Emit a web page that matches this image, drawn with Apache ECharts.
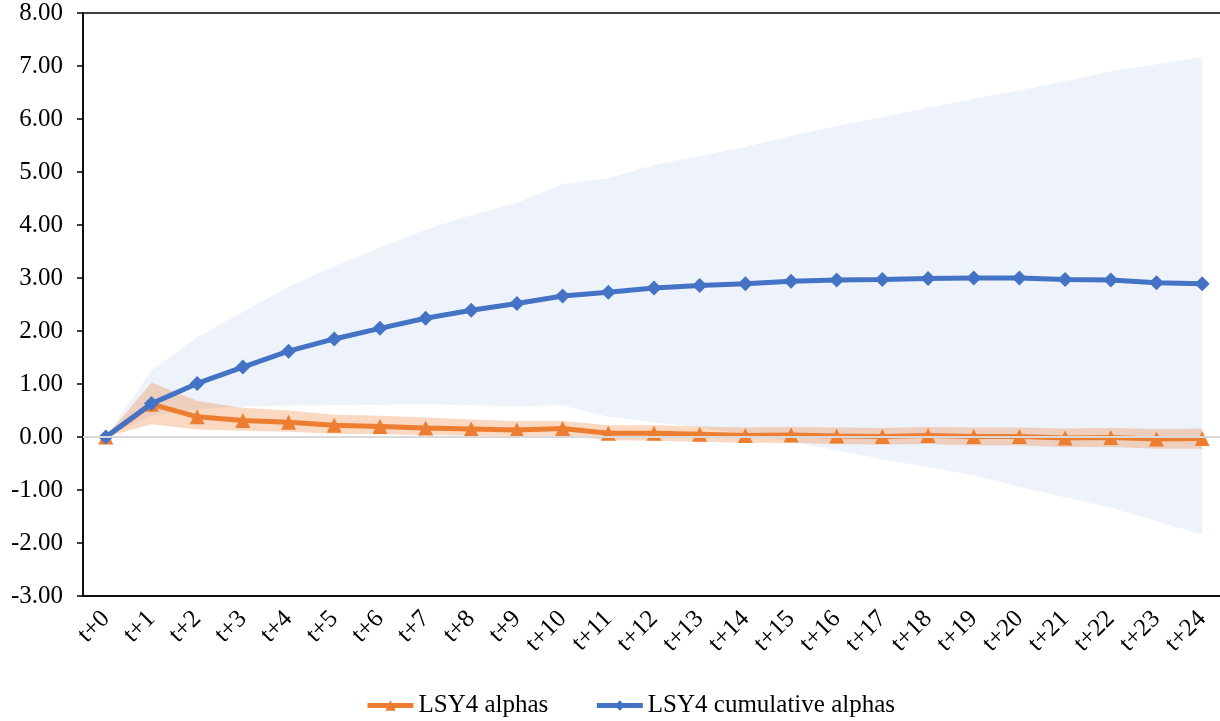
<!DOCTYPE html>
<html>
<head>
<meta charset="utf-8">
<script src="https://cdn.jsdelivr.net/npm/echarts@6/dist/echarts.min.js"></script>
<style>
html,body{margin:0;padding:0;background:#fff;}
#chart{width:1220px;height:721px;}
</style>
</head>
<body>
<div id="chart"></div>
<script>
var categories = ['t+0','t+1','t+2','t+3','t+4','t+5','t+6','t+7','t+8','t+9','t+10','t+11','t+12','t+13','t+14','t+15','t+16','t+17','t+18','t+19','t+20','t+21','t+22','t+23','t+24'];
var alphas = [0, 0.62, 0.38, 0.31, 0.28, 0.22, 0.20, 0.17, 0.15, 0.13, 0.16, 0.07, 0.07, 0.05, 0.03, 0.04, 0.02, 0.01, 0.03, 0.01, 0.01, -0.02, -0.01, -0.04, -0.03];
var alphasUpper = [0, 1.03, 0.68, 0.55, 0.50, 0.42, 0.40, 0.37, 0.33, 0.30, 0.30, 0.22, 0.22, 0.20, 0.18, 0.19, 0.18, 0.17, 0.19, 0.18, 0.18, 0.16, 0.17, 0.15, 0.16];
var alphasLower = [0, 0.24, 0.14, 0.12, 0.10, 0.06, 0.05, 0.04, 0.03, 0.02, 0.03, -0.06, -0.07, -0.09, -0.11, -0.11, -0.13, -0.14, -0.13, -0.16, -0.16, -0.19, -0.19, -0.22, -0.22];
var cumAlphas = [0, 0.63, 1.01, 1.32, 1.62, 1.85, 2.05, 2.24, 2.39, 2.52, 2.66, 2.73, 2.81, 2.86, 2.89, 2.94, 2.96, 2.97, 2.99, 3.00, 3.00, 2.97, 2.96, 2.91, 2.89];
var cumUpper = [0, 1.26, 1.88, 2.36, 2.84, 3.22, 3.57, 3.91, 4.19, 4.42, 4.77, 4.88, 5.13, 5.30, 5.47, 5.68, 5.87, 6.04, 6.21, 6.38, 6.54, 6.71, 6.90, 7.03, 7.17];
var cumLower = [0, 0.40, 0.52, 0.58, 0.59, 0.60, 0.61, 0.62, 0.60, 0.58, 0.60, 0.38, 0.28, 0.18, 0.06, -0.08, -0.25, -0.42, -0.57, -0.72, -0.94, -1.14, -1.33, -1.59, -1.84];
var yTicks = {min: -3, max: 8, step: 1};

function diff(u, l) { return u.map(function (v, i) { return +(v - l[i]).toFixed(4); }); }

var FONT = '"Liberation Serif", "Times New Roman", serif';
var chart = echarts.init(document.getElementById('chart'));
var hidden = {opacity: 0};
chart.setOption({
  animation: false,
  backgroundColor: '#fff',
  grid: {left: 83, top: 13, width: 1142, height: 583, show: true, borderColor: '#000', borderWidth: 1.5, containLabel: false, outerBoundsMode: 'none'},
  legend: {
    data: ['LSY4 alphas', 'LSY4 cumulative alphas'],
    left: 360, top: 688,
    itemWidth: 46, itemHeight: 13, itemGap: 46,
    lineStyle: {width: 5},
    textStyle: {fontFamily: FONT, fontSize: 25, color: '#000'}
  },
  xAxis: {
    type: 'category', data: categories, boundaryGap: true,
    axisLine: {show: true, onZero: false, lineStyle: {color: '#000', width: 1.5}},
    axisTick: {show: false},
    splitLine: {show: false},
    axisLabel: {rotate: 45, margin: 19, interval: 0, fontFamily: FONT, fontSize: 25, color: '#000'}
  },
  yAxis: {
    type: 'value', min: yTicks.min, max: yTicks.max, interval: yTicks.step,
    axisLine: {show: true, lineStyle: {color: '#000', width: 1.5}},
    axisTick: {show: true, length: 6, lineStyle: {color: '#000', width: 1.5}},
    splitLine: {show: false},
    axisLabel: {margin: 20, fontFamily: FONT, fontSize: 25, color: '#000', formatter: function (v) { return v.toFixed(2); }}
  },
  series: [
    {name: 'cumLow', type: 'line', data: cumLower, stack: 'cb', stackStrategy: 'all', symbol: 'none', lineStyle: hidden, silent: true, z: 1,
     markLine: {silent: true, symbol: 'none', label: {show: false}, lineStyle: {color: '#d9d9d9', width: 2, type: 'solid'}, data: [{yAxis: 0}]}},
    {name: 'cumBand', type: 'line', data: diff(cumUpper, cumLower), stack: 'cb', stackStrategy: 'all', symbol: 'none', lineStyle: hidden, silent: true, z: 1,
     areaStyle: {color: 'rgba(68,114,196,0.09)', opacity: 1}},
    {name: 'aLow', type: 'line', data: alphasLower, stack: 'ab', stackStrategy: 'all', symbol: 'none', lineStyle: hidden, silent: true, z: 2},
    {name: 'aBand', type: 'line', data: diff(alphasUpper, alphasLower), stack: 'ab', stackStrategy: 'all', symbol: 'none', lineStyle: hidden, silent: true, z: 2,
     areaStyle: {color: 'rgba(237,125,49,0.3)', opacity: 1}},
    {name: 'LSY4 alphas', type: 'line', data: alphas, z: 3,
     symbol: 'triangle', symbolSize: 15, showAllSymbol: true,
     lineStyle: {color: '#ED7D31', width: 5}, itemStyle: {color: '#ED7D31'}},
    {name: 'LSY4 cumulative alphas', type: 'line', data: cumAlphas, z: 4,
     symbol: 'diamond', symbolSize: 15, showAllSymbol: true,
     lineStyle: {color: '#4472C4', width: 5}, itemStyle: {color: '#4472C4'}}
  ]
});
</script>
</body>
</html>
